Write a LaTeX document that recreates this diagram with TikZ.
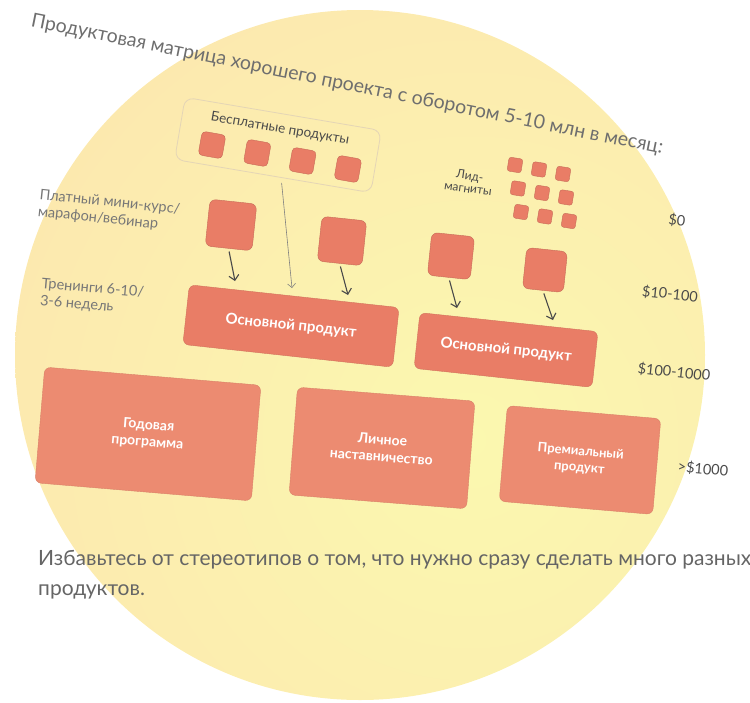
\documentclass[tikz,border=0pt]{standalone}
\usepackage{fontspec}
\setmainfont{Lato}
\usepackage{tikz}
\usetikzlibrary{positioning, arrows.meta}

\definecolor{peach}{HTML}{FDDAAE}
\definecolor{lemon}{HTML}{FBF8AF}
\definecolor{salmon}{HTML}{E97D66}
\definecolor{softsalmon}{HTML}{EC8B71}
\definecolor{framegray}{HTML}{E4D5B6}
\definecolor{inkgray}{HTML}{4A4A4A}

\begin{document}
\begin{tikzpicture}[
    x=1pt, y=-1pt,
    product/.style={draw=salmon!90!black, fill=salmon, rounded corners=6pt, inner sep=0pt,
        text=white, align=center, font=\fontsize{15}{17}\selectfont\bfseries},
    bigproduct/.style={product, draw=softsalmon!92!black, fill=softsalmon,
        font=\fontsize{14}{17}\selectfont\bfseries},
    tile/.style={draw=salmon!85!black, fill=salmon, rounded corners=4pt, minimum size=24, inner sep=0pt},
    leadtile/.style={tile, rounded corners=2.5pt, minimum size=14},
    bigtile/.style={tile, rounded corners=6pt},
    freebox/.style={draw=framegray, line width=0.8pt, rounded corners=9pt, inner sep=0pt},
    sidetext/.style={text=inkgray!75, align=left, font=\fontsize{14.5}{17}\selectfont},
    price/.style={text=inkgray, font=\fontsize{14.5}{16}\selectfont},
    arr/.style={-{Straight Barb[length=5pt, width=10pt]}, draw=inkgray, line width=1.1pt},
    thinarr/.style={-{Straight Barb[length=4pt, width=8pt]}, draw=inkgray!70, line width=0.6pt}
]

\useasboundingbox (0,0) rectangle (750,702);
\begin{scope}
    \clip (360,355) circle[radius=345pt];
    \shade[inner color=lemon, outer color=peach] (470,440) circle[radius=960pt];
\end{scope}

\node[text=inkgray!80, rotate=-11.4, font=\fontsize{19.5}{22}\selectfont] (title) at (347,85)
    {Продуктовая матрица хорошего проекта с оборотом 5-10 млн в месяц:};

\node[freebox, rotate=-9.6, minimum width=199, minimum height=63] (free) at (278,145) {};
\node[sidetext, text=inkgray, rotate=-9.6, font=\fontsize{13.5}{15}\selectfont] (freelbl) at (280,129) {Бесплатные продукты};
\foreach \i in {0,...,3}
    \node[tile, rotate=-10] (f\i) at ({212+45.3*\i},{145+8*\i}) {};

\node[sidetext, text=inkgray, align=center, rotate=-8, font=\fontsize{12}{13}\selectfont] (leadlbl) at (469,182) {Лид-\\магниты};
\foreach \i in {0,1,2}
    \foreach \j in {0,1,2}
        \node[leadtile, rotate=-9] (l\i\j) at ({515+24*\i+3*\j},{165+4.5*\i+23.5*\j}) {};

\node[sidetext, rotate=-6] (paidlbl) at (109,211) {Платный мини-курс/\\марафон/вебинар};
\node[sidetext, rotate=-5] (trainlbl) at (92,297) {Тренинги 6-10/\\3-6 недель};

\node[bigtile, rotate=-6, minimum size=47] (p1) at (231,225) {};
\node[bigtile, rotate=-6, minimum size=45] (p2) at (342,241) {};
\node[bigtile, rotate=-6, minimum size=43] (p3) at (451,256) {};
\node[bigtile, rotate=-6, minimum size=41] (p4) at (545,270) {};

\node[product, rotate=-6.2, minimum width=211, minimum height=60] (main1) at (291,326) {Основной продукт};
\node[product, rotate=-6.1, minimum width=179, minimum height=56] (main2) at (506,350) {Основной продукт};

\coordinate (t1) at (235,281);
\coordinate (t2) at (348,295);
\coordinate (t3) at (457,308);
\coordinate (t4) at (553,320);
\coordinate (tf) at (292,288);
\draw[arr, shorten <=3pt] (p1.south) -- (t1);
\draw[arr, shorten <=3pt] (p2.south) -- (t2);
\draw[arr, shorten <=3pt] (p3.south) -- (t3);
\draw[arr, shorten <=3pt] (p4.south) -- (t4);
\draw[thinarr, shorten <=5pt] (free.285) -- (tf);

\node[bigproduct, rotate=-4.8, minimum width=217, minimum height=116] (year) at (148,434) {Годовая\\программа};
\node[bigproduct, rotate=-4.5, minimum width=178, minimum height=108] (mentor) at (382,448) {Личное\\наставничество};
\node[bigproduct, rotate=-4.9, minimum width=154, minimum height=96, font=\fontsize{13}{16}\selectfont\bfseries] (premium) at (580,460) {Премиальный\\продукт};

\node[price, rotate=-6] (c0) at (677,220) {\$0};
\node[price, rotate=-6] (c1) at (670,294) {\$10-100};
\node[price, rotate=-6] (c2) at (674,372) {\$100-1000};
\node[price, rotate=-5] (c3) at (703,469) {>\$1000};

\node[anchor=north west, align=left, text=inkgray!85, inner sep=0pt,
    font=\fontsize{21}{30}\selectfont] (note) at (38,550)
    {Избавьтесь от стереотипов о том, что нужно сразу сделать много разных\\продуктов.};

\end{tikzpicture}
\end{document}
